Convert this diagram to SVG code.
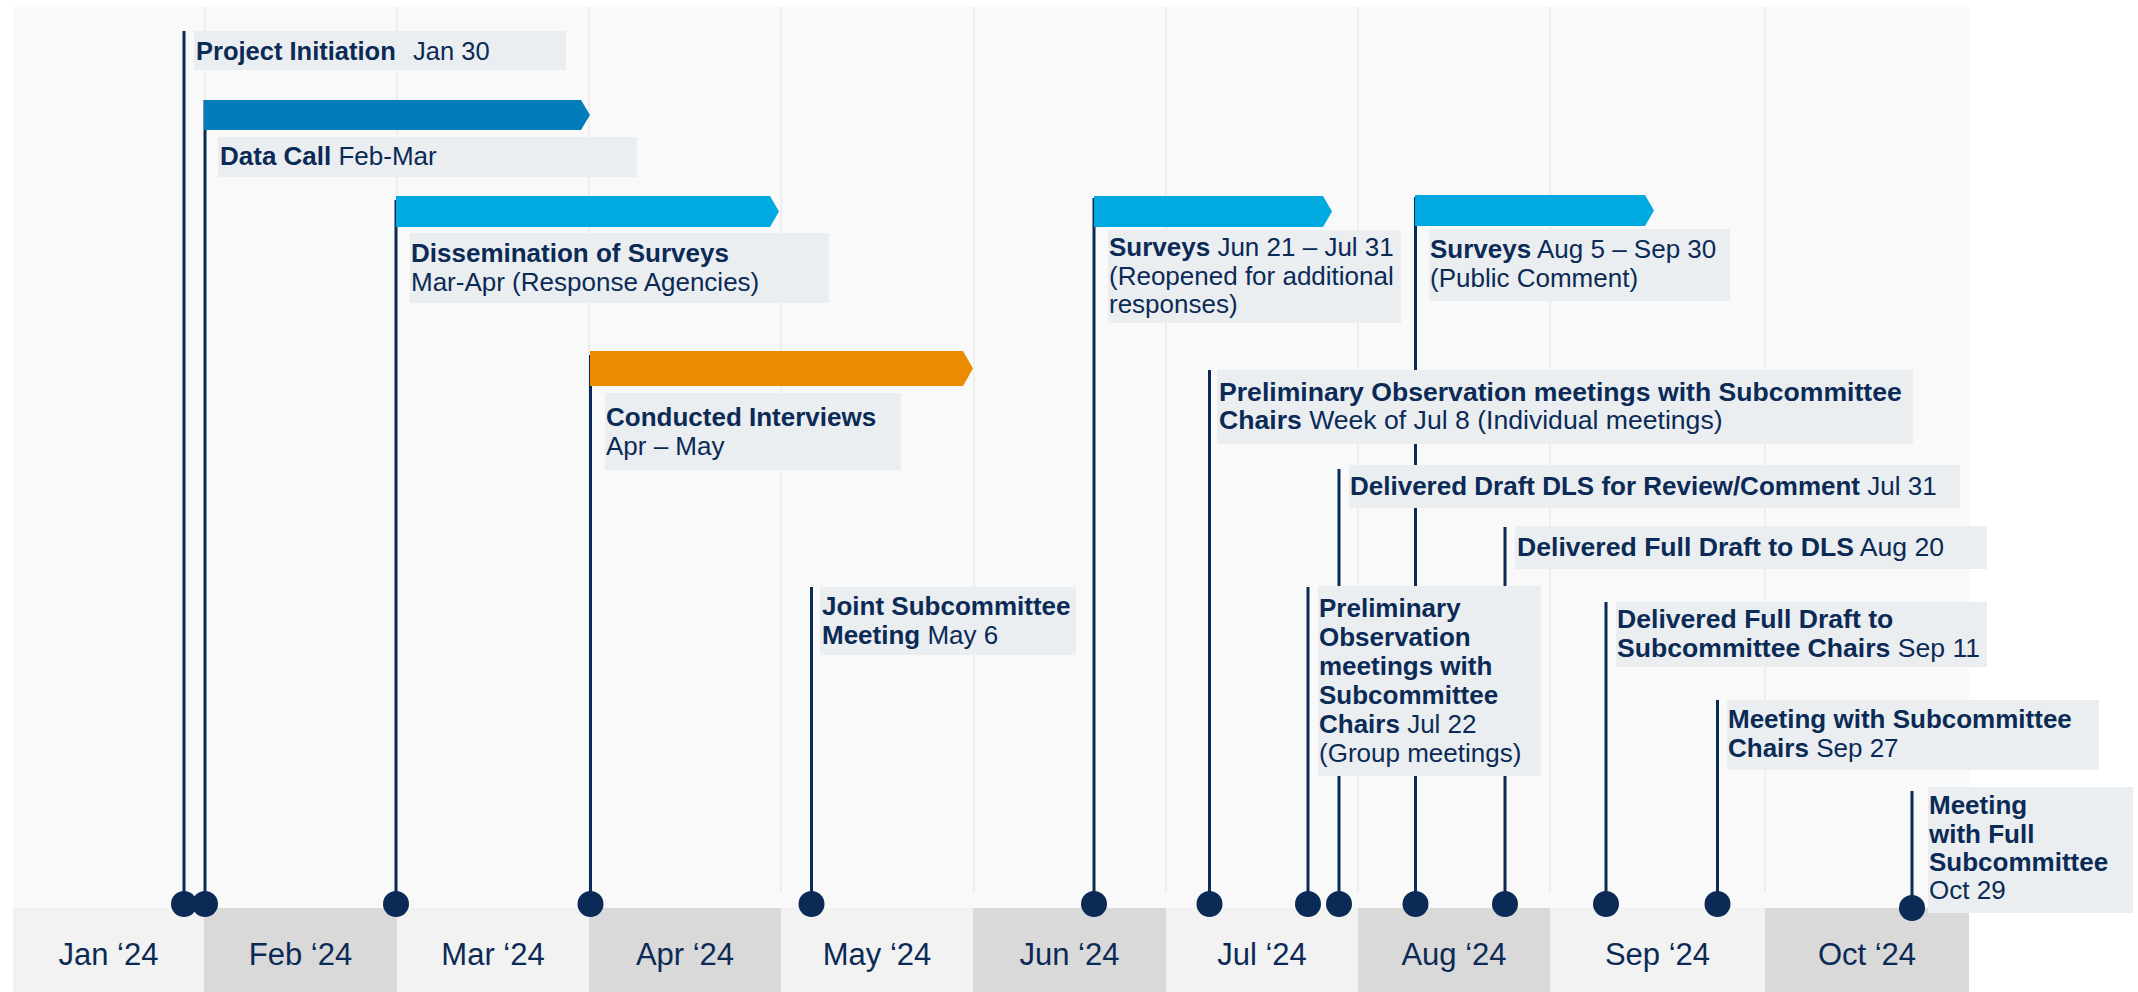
<svg xmlns="http://www.w3.org/2000/svg" width="2138" height="992" viewBox="0 0 2138 992">
<style>
.t{font-family:"Liberation Sans",Arial,sans-serif;font-size:26px;fill:#0B2A55}
.t2{font-size:26.6px}
.b{font-weight:bold}
.m{font-family:"Liberation Sans",Arial,sans-serif;font-size:31px;fill:#0B2A55;text-anchor:middle}
.box{fill:#EAEEF1}
.grid{stroke:#EEEEEE;stroke-width:2}
.ln{stroke:#0B2A55;stroke-width:3}
.dot{fill:#0B2A55}
.lt{fill:#F2F2F2}
.dk{fill:#D9D9D9}
</style>
<rect x="0" y="0" width="2138" height="992" fill="#FFFFFF"/>
<rect x="13" y="7" width="1956" height="901" fill="#F9F9F9"/>
<g id="grid">
<line class="grid" x1="205" y1="7" x2="205" y2="892"/>
<line class="grid" x1="397" y1="7" x2="397" y2="892"/>
<line class="grid" x1="589" y1="7" x2="589" y2="892"/>
<line class="grid" x1="781" y1="7" x2="781" y2="892"/>
<line class="grid" x1="974" y1="7" x2="974" y2="892"/>
<line class="grid" x1="1166" y1="7" x2="1166" y2="892"/>
<line class="grid" x1="1358" y1="7" x2="1358" y2="892"/>
<line class="grid" x1="1550" y1="7" x2="1550" y2="892"/>
<line class="grid" x1="1765" y1="7" x2="1765" y2="892"/>
</g>
<g id="months">
<rect class="lt" x="13" y="908" width="191" height="84"/>
<rect class="dk" x="204" y="908" width="193" height="84"/>
<rect class="lt" x="397" y="908" width="192" height="84"/>
<rect class="dk" x="589" y="908" width="192" height="84"/>
<rect class="lt" x="781" y="908" width="192" height="84"/>
<rect class="dk" x="973" y="908" width="193" height="84"/>
<rect class="lt" x="1166" y="908" width="192" height="84"/>
<rect class="dk" x="1358" y="908" width="192" height="84"/>
<rect class="lt" x="1550" y="908" width="215" height="84"/>
<rect class="dk" x="1765" y="908" width="204" height="84"/>
<text class="m" x="108.5" y="965">Jan ‘24</text>
<text class="m" x="300.5" y="965">Feb ‘24</text>
<text class="m" x="493" y="965">Mar ‘24</text>
<text class="m" x="685" y="965">Apr ‘24</text>
<text class="m" x="877" y="965">May ‘24</text>
<text class="m" x="1069.5" y="965">Jun ‘24</text>
<text class="m" x="1262" y="965">Jul ‘24</text>
<text class="m" x="1454" y="965">Aug ‘24</text>
<text class="m" x="1657.5" y="965">Sep ‘24</text>
<text class="m" x="1867" y="965">Oct ‘24</text>
</g>
<g id="connectors">
<line class="ln" x1="184" y1="31" x2="184" y2="904"/>
<line class="ln" x1="205" y1="100" x2="205" y2="904"/>
<line class="ln" x1="396" y1="200" x2="396" y2="904"/>
<line class="ln" x1="590.5" y1="355" x2="590.5" y2="904"/>
<line class="ln" x1="811.5" y1="587" x2="811.5" y2="904"/>
<line class="ln" x1="1094" y1="198" x2="1094" y2="904"/>
<line class="ln" x1="1209.5" y1="370" x2="1209.5" y2="904"/>
<line class="ln" x1="1308" y1="587" x2="1308" y2="904"/>
<line class="ln" x1="1339" y1="469" x2="1339" y2="904"/>
<line class="ln" x1="1415.5" y1="197" x2="1415.5" y2="904"/>
<line class="ln" x1="1505" y1="527" x2="1505" y2="904"/>
<line class="ln" x1="1606" y1="602" x2="1606" y2="904"/>
<line class="ln" x1="1717.5" y1="700" x2="1717.5" y2="904"/>
<line class="ln" x1="1912" y1="791" x2="1912" y2="908"/>
</g>
<g id="project-initiation">
<rect class="box" x="194" y="31" width="372" height="39"/>
<text class="t" x="196" y="60" style="font-size:25.5px"><tspan class="b">Project Initiation</tspan><tspan x="413">Jan 30</tspan></text>
<circle class="dot" cx="184" cy="904" r="13"/>
</g>
<g id="data-call">
<polygon points="204,100 581,100 590,115 581,130 204,130" fill="#007DBA"/>
<rect class="box" x="218" y="137" width="419" height="40"/>
<text class="t" x="220" y="165"><tspan class="b">Data Call</tspan> Feb-Mar</text>
<circle class="dot" cx="205" cy="904" r="13"/>
</g>
<g id="dissemination">
<polygon points="396,196 770,196 779,211.5 770,227 396,227" fill="#00A9E0"/>
<rect class="box" x="410" y="233" width="419" height="70"/>
<text class="t" x="411" y="262"><tspan class="b">Dissemination of Surveys</tspan><tspan x="411" y="291">Mar-Apr (Response Agencies)</tspan></text>
<circle class="dot" cx="396" cy="904" r="13"/>
</g>
<g id="interviews">
<polygon points="590,351 963,351 973,368.5 963,386 590,386" fill="#EB8C00"/>
<rect class="box" x="605" y="393" width="296" height="77"/>
<text class="t" x="606" y="426"><tspan class="b">Conducted Interviews</tspan><tspan x="606" y="455">Apr – May</tspan></text>
<circle class="dot" cx="590.5" cy="904" r="13"/>
</g>
<g id="joint-meeting">
<rect class="box" x="820" y="587" width="256" height="68"/>
<text class="t" x="822" y="615"><tspan class="b">Joint Subcommittee</tspan><tspan x="822" y="644" class="b">Meeting</tspan> May 6</text>
<circle class="dot" cx="811.5" cy="904" r="13"/>
</g>
<g id="surveys-jun">
<polygon points="1094,196 1323,196 1332,211.5 1323,227 1094,227" fill="#00A9E0"/>
<rect class="box" x="1108" y="230" width="293" height="93"/>
<text class="t" x="1109" y="256"><tspan class="b">Surveys</tspan> Jun 21 – Jul 31<tspan x="1109" y="285">(Reopened for additional</tspan><tspan x="1109" y="313">responses)</tspan></text>
<circle class="dot" cx="1094" cy="904" r="13"/>
</g>
<g id="prelim-jul8">
<rect class="box" x="1217" y="370" width="696" height="74"/>
<text class="t t2" x="1219" y="401"><tspan class="b">Preliminary Observation meetings with Subcommittee</tspan><tspan x="1219" y="429" class="b">Chairs</tspan> Week of Jul 8 (Individual meetings)</text>
<circle class="dot" cx="1209.5" cy="904" r="13"/>
</g>
<g id="draft-dls">
<rect class="box" x="1349" y="465" width="611" height="43"/>
<text class="t" x="1350" y="495"><tspan class="b">Delivered Draft DLS for Review/Comment</tspan> Jul 31</text>
<circle class="dot" cx="1339" cy="904" r="13"/>
</g>
<g id="full-draft-dls">
<rect class="box" x="1515" y="526" width="472" height="43"/>
<text class="t t2" x="1517" y="556"><tspan class="b">Delivered Full Draft to DLS</tspan> Aug 20</text>
<circle class="dot" cx="1505" cy="904" r="13"/>
</g>
<g id="prelim-jul22">
<rect class="box" x="1318" y="586" width="223" height="190"/>
<text class="t" x="1319" y="617"><tspan class="b">Preliminary</tspan><tspan x="1319" y="646" class="b">Observation</tspan><tspan x="1319" y="675" class="b">meetings with</tspan><tspan x="1319" y="704" class="b">Subcommittee</tspan><tspan x="1319" y="733" class="b">Chairs</tspan> Jul 22<tspan x="1319" y="762">(Group meetings)</tspan></text>
<circle class="dot" cx="1308" cy="904" r="13"/>
</g>
<g id="surveys-aug">
<polygon points="1415,195 1645,195 1654,210.5 1645,226 1415,226" fill="#00A9E0"/>
<rect class="box" x="1429" y="229" width="301" height="72"/>
<text class="t" x="1430" y="258"><tspan class="b">Surveys</tspan> Aug 5 – Sep 30<tspan x="1430" y="287">(Public Comment)</tspan></text>
<circle class="dot" cx="1415.5" cy="904" r="13"/>
</g>
<g id="full-draft-chairs">
<rect class="box" x="1616" y="602" width="371" height="65"/>
<text class="t t2" x="1617" y="628"><tspan class="b">Delivered Full Draft to</tspan><tspan x="1617" y="657" class="b">Subcommittee Chairs</tspan> Sep 11</text>
<circle class="dot" cx="1606" cy="904" r="13"/>
</g>
<g id="meeting-chairs">
<rect class="box" x="1727" y="700" width="372" height="70"/>
<text class="t" x="1728" y="728"><tspan class="b">Meeting with Subcommittee</tspan><tspan x="1728" y="757" class="b">Chairs</tspan> Sep 27</text>
<circle class="dot" cx="1717.5" cy="904" r="13"/>
</g>
<g id="meeting-full">
<rect class="box" x="1928" y="787" width="205" height="126"/>
<text class="t" x="1929" y="814"><tspan class="b">Meeting</tspan><tspan x="1929" y="843" class="b">with Full</tspan><tspan x="1929" y="871" class="b">Subcommittee</tspan><tspan x="1929" y="899">Oct 29</tspan></text>
<circle class="dot" cx="1912" cy="908" r="13"/>
</g>
</svg>
